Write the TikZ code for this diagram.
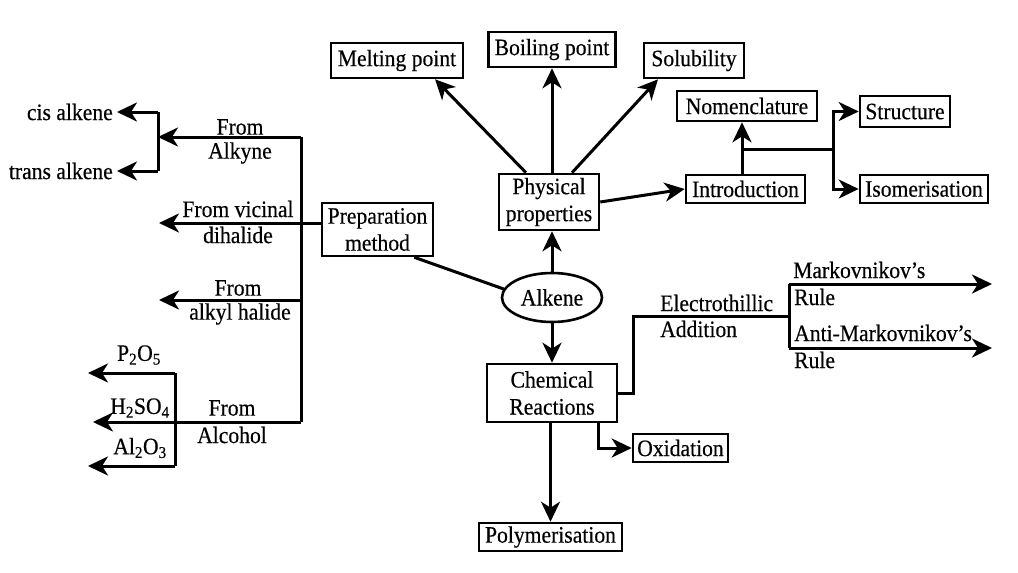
\documentclass[tikz,border=0pt]{standalone}
\usepackage{fontspec}
\setmainfont{Liberation Serif}[FakeStretch=0.92,FakeBold=0.4]
\usetikzlibrary{arrows.meta,calc,shapes.geometric}
\begin{document}
\begin{tikzpicture}[x=1pt,y=-1pt,
  every node/.style={font=\fontsize{23.5}{27}\selectfont},
  box/.style={draw, line width=2.6pt, inner sep=0pt, align=center},
  lbl/.style={inner sep=0pt, align=center},
  conn/.style={line width=3pt},
  arr/.style={conn, -{Stealth[length=20pt,width=19pt,inset=6pt]}}]
\useasboundingbox (0,0) rectangle (1018,573);
% boxes
\node[box, minimum width=132pt, minimum height=35pt] (melt) at (397,60.5) {Melting point};
\node[box, minimum width=127pt, minimum height=35pt] (boil) at (552,49.5) {Boiling point};
\node[box, minimum width=100pt, minimum height=35pt] (solub) at (694,60.5) {Solubility};
\node[box, minimum width=140pt, minimum height=30pt] (nomen) at (747,106) {Nomenclature};
\node[box, minimum width=90pt, minimum height=31pt] (struct) at (905,111.5) {Structure};
\node[box, minimum width=128pt, minimum height=28pt] (isomer) at (924,189) {Isomerisation};
\node[box, minimum width=119pt, minimum height=28pt] (intro) at (745.5,189) {Introduction};
\node[box, minimum width=100pt, minimum height=56pt] (phys) at (549,202) {Physical\\properties};
\node[box, minimum width=111pt, minimum height=53pt] (prep) at (377.5,229.5) {Preparation\\method};
\node[draw, ellipse, line width=2.6pt, minimum width=100pt, minimum height=49pt, inner sep=0pt] (alk) at (552,297.5) {Alkene};
\node[box, minimum width=130pt, minimum height=58pt] (chem) at (552,393) {Chemical\\Reactions};
\node[box, minimum width=95pt, minimum height=28pt] (oxid) at (680.5,448) {Oxidation};
\node[box, minimum width=143pt, minimum height=28pt] (poly) at (550.5,537) {Polymerisation};
% physical properties branch
\draw[arr] (alk.north) -- (phys.south -| alk.north);
\draw[arr] ($(phys.north)+(-23,0)$) -- ($(melt.south)+(38,0)$);
\draw[arr] (phys.north -| boil.south) -- (boil.south);
\draw[arr] ($(phys.north)+(23,0)$) -- ($(solub.south)+(-36,0)$);
\draw[arr] (phys.east) -- (intro.west);
\coordinate (br) at (742,149);
\coordinate (bs) at (833,149);
\draw[arr] (intro.north -| br) -- (nomen.south -| br);
\draw[conn] (br) -- (bs);
\draw[arr] (bs) |- (struct.west);
\draw[arr] (bs) |- (isomer.west);
% alkene links
\draw[conn] ($(prep.south east)+(-20,0)$) -- (alk.170);
\draw[arr] (alk.south) -- (chem.north);
\draw[arr] (chem.south -| poly.north) -- (poly.north);
\draw[arr] ($(chem.south)+(46,0)$) |- (oxid.west);
% electrophilic addition
\coordinate (e1) at (633,316);
\coordinate (e2) at (789,316);
\coordinate (m1) at (789,284);
\coordinate (m2) at (992,284);
\coordinate (a1) at (789,348);
\coordinate (a2) at (992,348);
\draw[conn] (chem.east) -| (e1) -- (e2);
\draw[conn] (m1) -- (a1);
\draw[arr] (m1) -- (m2);
\draw[arr] (a1) -- (a2);
\node[lbl, anchor=west] (el1) at (660,303) {Electrothillic};
\node[lbl, anchor=west] (el2) at (660,329) {Addition};
\node[lbl, anchor=west] (mk1) at (793,270) {Markovnikov’s};
\node[lbl, anchor=west] (mk2) at (794,297) {Rule};
\node[lbl, anchor=west] (am1) at (794,333) {Anti-Markovnikov’s};
\node[lbl, anchor=west] (am2) at (794,360) {Rule};
% preparation methods
\coordinate (t1) at (301,137);
\coordinate (t4) at (301,422);
\draw[conn] (t1) -- (t4);
\coordinate (ak) at (158,137);
\draw[arr] (t1) -- (ak);
\coordinate (bk1) at (158,112);
\coordinate (bk2) at (158,171);
\draw[conn] (bk1) -- (bk2);
\node[lbl, anchor=east] (cis) at (113,112) {cis alkene};
\node[lbl, anchor=east] (trans) at (113,171) {trans alkene};
\draw[arr] (bk1) -- ([xshift=4pt]cis.east);
\draw[arr] (bk2) -- ([xshift=4pt]trans.east);
\coordinate (vic) at (159,223);
\draw[arr] (prep.west |- vic) -- (vic);
\coordinate (alh) at (159,300);
\draw[arr] (t1 |- alh) -- (alh);
\coordinate (alc) at (93,422);
\draw[arr] (t4) -- (alc);
\coordinate (p1) at (175,373);
\coordinate (p3) at (175,466);
\coordinate (p1e) at (88,373);
\coordinate (p3e) at (88,466);
\draw[conn] (p1) -- (p3);
\draw[arr] (p1) -- (p1e);
\draw[arr] (p3) -- (p3e);
\node[lbl] (l1a) at (240,127) {From};
\node[lbl] (l1b) at (240,153) {Alkyne};
\node[lbl] (l2a) at (238,209) {From vicinal};
\node[lbl] (l2b) at (238,235) {dihalide};
\node[lbl] (l3a) at (238,288) {From};
\node[lbl] (l3b) at (240,314) {alkyl halide};
\node[lbl] (c1) at (139,355) {P\textsubscript{2}O\textsubscript{5}};
\node[lbl] (c2) at (140,408) {H\textsubscript{2}SO\textsubscript{4}};
\node[lbl] (c3) at (140,448) {Al\textsubscript{2}O\textsubscript{3}};
\node[lbl] (l4a) at (232,408) {From};
\node[lbl] (l4b) at (232,435) {Alcohol};
\end{tikzpicture}
\end{document}
